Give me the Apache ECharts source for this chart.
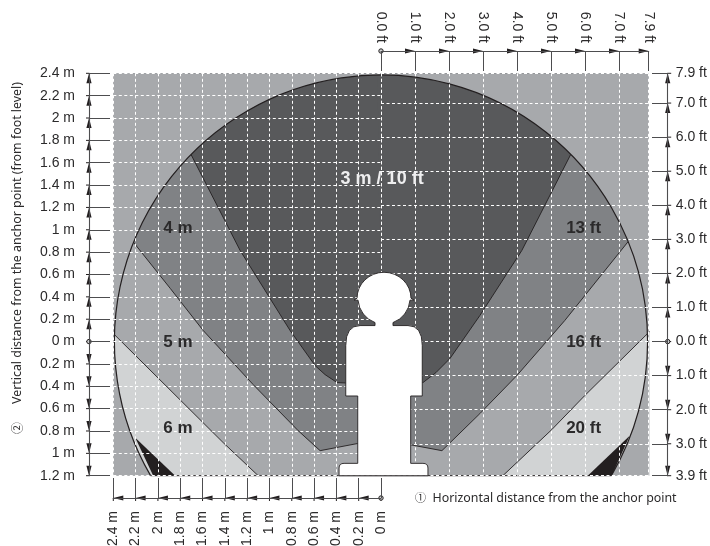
<!DOCTYPE html>
<html><head><meta charset="utf-8">
<style>html,body{margin:0;padding:0;background:#fff}#c{width:710px;height:546px}</style>
<script src="https://cdn.jsdelivr.net/npm/echarts@6/dist/echarts.min.js"></script>
</head><body><div id="c"></div>
<script>
// ---- tick values ----
const xMetreTicks = [-2.4,-2.2,-2,-1.8,-1.6,-1.4,-1.2,-1,-0.8,-0.6,-0.4,-0.2,0];
const yMetreTicks = [-1.2,-1,-0.8,-0.6,-0.4,-0.2,0,0.2,0.4,0.6,0.8,1,1.2,1.4,1.6,1.8,2,2.2,2.4];
const xFeetTicks = [0,1,2,3,4,5,6,7,7.874];
const yFeetTicks = [-3.937,-3,-2,-1,0,1,2,3,4,5,6,7,7.874];
// ---- range boundaries, metres on the left half, feet on the right half ----
const left3m   = [[-1.746,1.746],[-1.704,1.675],[-1.263,0.815],[-0.815,0.099],[-0.591,-0.215],[-0.501,-0.296],[-0.394,-0.367],[-0.188,-0.376],[0.027,-0.376]];
const left4m   = [[-2.239,0.913],[-1.889,0.475],[-1.594,0.099],[-1.146,-0.385],[-0.743,-0.797],[-0.546,-0.976],[-0.215,-0.913],[0.027,-0.895]];
const left6m   = [[-2.4,0.072],[-1.415,-0.904],[-1.101,-1.2]];
const leftOut  = [[-2.203,-0.86],[-2.042,-1.2],[-1.845,-1.2]];
const right10ft = [[5.729,5.729],[5.611,5.552],[4.142,2.673],[2.908,0.764],[2.027,-0.499],[1.616,-0.911],[1.234,-1.204],[0.705,-1.234],[0,-1.234]];
const right13ft = [[7.344,3.026],[5.405,0.617],[3.995,-0.999],[2.908,-2.115],[1.792,-3.202],[0.852,-3.026],[0,-2.938]];
const right20ft = [[7.902,0.294],[5.993,-1.586],[5.023,-2.585],[3.584,-3.937]];
const rightOut  = [[7.315,-2.761],[6.081,-3.937],[6.786,-3.937]];
const reachRadius = 2.39;
// ---- text labels placed at data positions ----
const metreLabels = [['4 m',-1.82,1.01],['5 m',-1.82,-0.01],['6 m',-1.82,-0.78]];
const feetLabels  = [['13 ft',5.96,3.32],['16 ft',5.96,-0.03],['20 ft',5.96,-2.56]];
const reachLabel  = ['3 m / 10 ft',0.01,1.45];

const C = {dark:'#58595b', mid:'#808285', base:'#a7a9ac', light:'#d1d3d4', black:'#231f20', text:'#2b2a2b', line:'#4d4d4f'};
const fam = '"Liberation Sans", Arial, sans-serif';
const GL = 113.3, GC = 381, GR = 648.7, GT = 73.3, GB = 475.7;
const W = 710, H = 546;

function polySeries(pts, closure, fill, idx, z){
  return {type:'custom', xAxisIndex:idx, yAxisIndex:idx, z, silent:true, data:[[0,0]],
    renderItem:(p,api)=>({type:'polygon', shape:{points:pts.concat(closure).map(q=>api.coord(q))},
      style:{fill, stroke:null}})};
}
function edgeSeries(pts, idx, z){
  return {type:'custom', xAxisIndex:idx, yAxisIndex:idx, z, silent:true, data:[[0,0]],
    renderItem:(p,api)=>({type:'polyline', shape:{points:pts.map(q=>api.coord(q))},
      style:{fill:null, stroke:C.black, lineWidth:0.9}})};
}
// mask outside the reach circle, drawn from the metre scale
const maskSeries = {type:'custom', xAxisIndex:0, yAxisIndex:0, z:3, silent:true, data:[[0,0]],
  renderItem:(p,api)=>{
    const a=api.coord([-2.4,2.4]), b=api.coord([2.4,-1.2]), c=api.coord([0,0]), r=api.size([reachRadius,0])[0];
    const dx=Math.sqrt(r*r-(b[1]-c[1])*(b[1]-c[1]));
    return {type:'path', shape:{pathData:
      `M${a[0]} ${a[1]}L${b[0]} ${a[1]}L${b[0]} ${b[1]}L${a[0]} ${b[1]}Z `+
      `M${c[0]+dx} ${b[1]}A${r} ${r} 0 1 0 ${c[0]-dx} ${b[1]}Z`},
      style:{fill:C.base, stroke:null}};
  }};
const circleSeries = {type:'custom', xAxisIndex:0, yAxisIndex:0, z:3.5, silent:true, data:[[0,0]],
  renderItem:(p,api)=>{
    const c=api.coord([0,0]), r=api.size([reachRadius,0])[0], b=Math.asin(1.2/reachRadius);
    return {type:'group', children:[
      {type:'arc', shape:{cx:c[0], cy:c[1], r, startAngle:Math.PI-b, endAngle:2*Math.PI+b, clockwise:true},
       style:{fill:null, stroke:C.black, lineWidth:1.2}},
      {type:'line', shape:{x1:c[0]-r*Math.cos(b), y1:api.coord([0,-1.2])[1], x2:c[0]+r*Math.cos(b), y2:api.coord([0,-1.2])[1]},
       style:{stroke:C.black, lineWidth:1}}
    ]};
  }};
// person icon, scaled onto a box
const personBox = [-0.376,-1.2,0.421,0.62];
const personPath = 'M354 299.5L357 297.5A27 26 0 0 1 411 297.5L414 299.5L410 299.5A26 26 0 0 1 393 322L393 325L408 325Q422.3 325 422.3 345L422.3 395.7L410.7 395.7L410.7 463.3L423 463.3Q428 463.3 428 468L428 475.7L339 475.7L339 468Q339 463.3 344 463.3L357.7 463.3L357.7 395.7L345.7 395.7L345.7 345Q345.7 325 360 325L375 325L375 322A26 26 0 0 1 358 299.5Z';
const personSeries = {type:'custom', xAxisIndex:0, yAxisIndex:0, z:6, silent:true, data:[[0,0]],
  renderItem:(p,api)=>{
    const a=api.coord([personBox[0],personBox[3]]), b=api.coord([personBox[2],personBox[1]]);
    return {type:'path', shape:{pathData:personPath, x:a[0], y:a[1], width:b[0]-a[0], height:b[1]-a[1], layout:'cover'},
      style:{fill:'#fff', stroke:C.black, lineWidth:0.9}};
  }};
function textSeries(items, idx, fill, size){
  return {type:'custom', xAxisIndex:idx, yAxisIndex:idx, z:7, silent:true, data:items.map((_,i)=>[i,0]),
    renderItem:(p,api)=>{
      const it=items[p.dataIndex], q=api.coord([it[1],it[2]]);
      return {type:'text', x:q[0], y:q[1], style:{text:it[0], fill, align:'center', verticalAlign:'middle',
        font:`bold ${size}px ${fam}`}};
    }};
}
// arrowheads along the four axis lines
function arrowSeries(ticks, idx, side, offset, over){
  return {type:'custom', xAxisIndex:idx, yAxisIndex:idx, z:4, silent:true, data:ticks.map(v=>[v,0]),
    renderItem:(p,api)=>{
      const v=api.value(0), horiz=(side==='top'||side==='bottom');
      const ext=api.coord(idx===0?[-2.4,2.4]:[7.874,-3.937]);
      const ext2=api.coord(idx===0?[0,-1.2]:[0,7.874]);
      let q;
      if(horiz){ q=api.coord([v,0]); q=[q[0], ext2[1]+(side==='top'?-offset:offset)]; }
      else { q=api.coord([0,v]); q=[ext[0]+(side==='left'?-offset:offset), q[1]]; }
      const kids=[];
      const dirOut=(side==='left'||side==='top')?-1:1;
      if(over){ kids.push({type:'line', shape: horiz?{x1:q[0],y1:q[1],x2:q[0],y2:q[1]+dirOut*over}:{x1:q[0],y1:q[1],x2:q[0]+dirOut*over,y2:q[1]},
        style:{stroke:C.black, lineWidth:1}}); }
      if(v===0){
        kids.push({type:'circle', shape:{cx:q[0],cy:q[1],r:2.2}, style:{fill:C.light, stroke:C.black, lineWidth:1}});
      } else {
        const len=10, hw=2.6; let pts;
        if(horiz){ const s=v>0?-1:1; pts=[[q[0],q[1]],[q[0]+s*len,q[1]-hw],[q[0]+s*len,q[1]+hw]]; }
        else { const s=v>0?1:-1; pts=[[q[0],q[1]],[q[0]-hw,q[1]+s*len],[q[0]+hw,q[1]+s*len]]; }
        kids.push({type:'polygon', shape:{points:pts}, style:{fill:C.black, stroke:null}});
      }
      return {type:'group', children:kids};
    }};
}
const gridStyle = {show:true, lineStyle:{color:'#ffffff', type:[3,2.5], width:1, opacity:1}};
function axis(base){
  return Object.assign({type:'value', z:5, axisLine:{show:true,onZero:false,lineStyle:{color:C.line,width:1.1}},
    splitLine:gridStyle}, base);
}
const mLabel = v=>parseFloat(Math.abs(v).toFixed(1))+' m';
const ftLabel = v=>Math.abs(v).toFixed(1)+' ft';
const lbl = {color:C.text, fontFamily:fam, fontSize:14};
const option = {
  animation:false, backgroundColor:'#fff',
  grid:[
    {left:GL, right:W-GC, top:GT, bottom:H-GB, show:true, backgroundColor:C.base, borderWidth:0, z:0, outerBoundsMode:'none'},
    {left:GC, right:W-GR, top:GT, bottom:H-GB, show:true, backgroundColor:C.base, borderWidth:0, z:0, outerBoundsMode:'none'}
  ],
  xAxis:[
    axis({gridIndex:0, position:'bottom', offset:22.3, min:-2.4, max:0,
      axisTick:{show:true, inside:true, length:20, customValues:xMetreTicks, lineStyle:{color:C.line,width:1}},
      axisLabel:Object.assign({show:true, rotate:90, margin:13, formatter:mLabel, customValues:xMetreTicks},lbl)}),
    axis({gridIndex:1, position:'top', offset:22.3, min:0, max:7.874,
      axisTick:{show:true, inside:true, length:20, customValues:xFeetTicks, lineStyle:{color:C.line,width:1}},
      axisLabel:Object.assign({show:true, rotate:90, margin:8, formatter:ftLabel, customValues:xFeetTicks},lbl)})
  ],
  yAxis:[
    axis({gridIndex:0, position:'left', offset:24.3, min:-1.2, max:2.4,
      axisTick:{show:true, inside:true, length:21, customValues:yMetreTicks, lineStyle:{color:C.line,width:1}},
      axisLabel:Object.assign({show:true, margin:14, formatter:mLabel, customValues:yMetreTicks},lbl)}),
    axis({gridIndex:1, position:'right', offset:19, min:-3.937, max:7.874,
      axisTick:{show:true, inside:true, length:15.7, customValues:yFeetTicks, lineStyle:{color:C.line,width:1}},
      axisLabel:Object.assign({show:true, margin:8, formatter:ftLabel, customValues:yFeetTicks},lbl)})
  ],
  graphic:[
    {type:'text', x:17, y:243, rotation:Math.PI/2, z:10, silent:true,
      style:{text:'Vertical distance from the anchor point (from foot level)', fill:C.text, align:'center', verticalAlign:'middle', font:'12.4px "Noto Sans", sans-serif'}},
    {type:'text', x:17, y:428, rotation:Math.PI/2, z:10, silent:true,
      style:{text:'②', fill:C.text, align:'center', verticalAlign:'middle', font:'12px "Noto Sans CJK JP", sans-serif'}},
    {type:'text', x:415, y:498, z:10, silent:true,
      style:{text:'①', fill:C.text, align:'left', verticalAlign:'middle', font:'11px "Noto Sans CJK JP", sans-serif'}},
    {type:'text', x:432.5, y:498, z:10, silent:true,
      style:{text:'Horizontal distance from the anchor point', fill:C.text, align:'left', verticalAlign:'middle', font:'12.4px "Noto Sans", sans-serif'}}
  ],
  series:[
    polySeries(left6m, [[-2.4,-1.2]], C.light, 0, 1),
    polySeries(leftOut, [], C.black, 0, 1.2),
    edgeSeries(left6m, 0, 1.3),
    polySeries(left4m, [[0.03,2.4],[-2.239,2.4]], C.mid, 0, 1.4),
    edgeSeries(left4m, 0, 1.5),
    polySeries(left3m, [[0.03,2.4],[-1.746,2.4]], C.dark, 0, 1.6),
    edgeSeries(left3m, 0, 1.7),
    polySeries(right20ft, [[7.902,-3.937]], C.light, 1, 1),
    polySeries(rightOut, [], C.black, 1, 1.2),
    edgeSeries(right20ft, 1, 1.3),
    polySeries(right13ft, [[-0.1,7.874],[7.344,7.874]], C.mid, 1, 1.4),
    edgeSeries(right13ft, 1, 1.5),
    polySeries(right10ft, [[-0.1,7.874],[5.729,7.874]], C.dark, 1, 1.6),
    edgeSeries(right10ft, 1, 1.7),
    maskSeries, circleSeries,
    arrowSeries(yMetreTicks, 0, 'left', 24.3, 3),
    arrowSeries(xMetreTicks, 0, 'bottom', 22.3, 3),
    arrowSeries(yFeetTicks, 1, 'right', 19, 3.5),
    arrowSeries(xFeetTicks, 1, 'top', 22.3, 0),
    personSeries,
    textSeries(metreLabels, 0, C.text, 17),
    textSeries(feetLabels, 1, C.text, 17),
    textSeries([reachLabel], 0, '#eeeeef', 18)
  ]
};
echarts.init(document.getElementById('c'),null,{renderer:'canvas'}).setOption(option);
</script></body></html>
